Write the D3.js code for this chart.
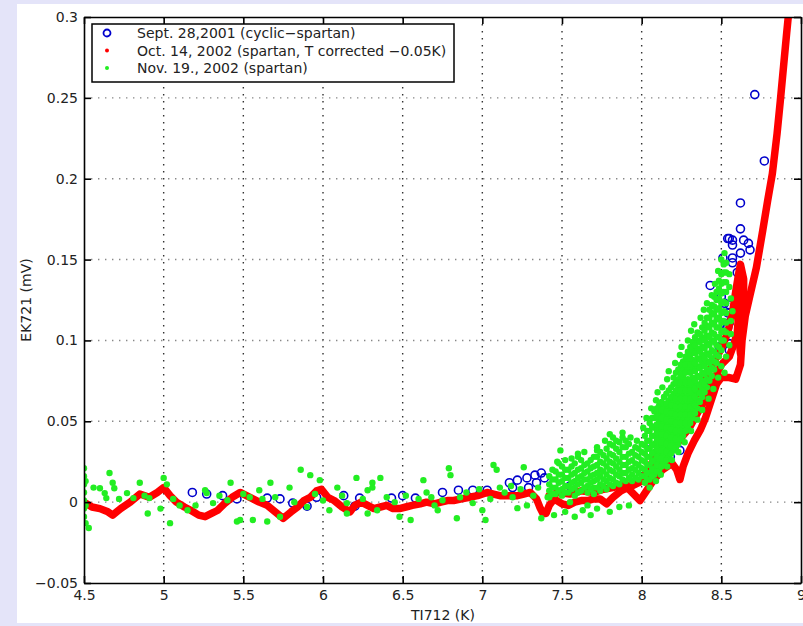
<!DOCTYPE html>
<head>
    <meta charset="UTF-8">
    <script src="https://d3js.org/d3.v7.min.js"></script>
    <style>
        body { margin: 0; }
        text { font-family: "DejaVu Sans", "Liberation Sans", Arial, sans-serif; }
    </style>
</head>

<body>
    <div id="viz"></div>
    <script>
        // axis ticks
        const xTicks = [4.5, 5, 5.5, 6, 6.5, 7, 7.5, 8, 8.5, 9];
        const yTicks = [-0.05, 0, 0.05, 0.1, 0.15, 0.2, 0.25, 0.3];

        const legendLabels = [
            "Sept. 28,2001 (cyclic\u2212spartan)",
            "Oct. 14, 2002 (spartan, T corrected \u22120.05K)",
            "Nov. 19., 2002 (spartan)"
        ];

        // Sept. 28, 2001 - open circles
        const blueSept = [
            [5.18, 0.006], [5.27, 0.005], [5.37, 0.004], [5.46, 0.002], [5.65, 0.0025], [5.73, 0.002],
            [5.81, -0.0006], [5.90, -0.0025], [5.96, 0.003], [6.13, 0.004], [6.20, -0.0025], [6.23, 0.0025],
            [6.43, 0.0025], [6.50, 0.004], [6.58, 0.0025], [6.75, 0.006], [6.85, 0.0074], [6.94, 0.0074],
            [7.03, 0.0074], [7.17, 0.012], [7.19, 0.009], [7.22, 0.0136], [7.28, 0.015], [7.29, 0.009],
            [7.33, 0.0167], [7.34, 0.012], [7.37, 0.018], [7.39, 0.015],
            [7.45, 0.012], [7.55, 0.010], [7.95, 0.014], [7.99, 0.015], [8.07, 0.034], [8.10, 0.030],
            [8.14, 0.038], [8.18, 0.028], [8.24, 0.032], [8.39, 0.073], [8.43, 0.072], [8.45, 0.080],
            [8.49, 0.096], [8.55, 0.094], [8.55, 0.098], [8.52, 0.102], [8.54, 0.108], [8.49, 0.110],
            [8.55, 0.111], [8.54, 0.117], [8.55, 0.122], [8.52, 0.123], [8.50, 0.127], [8.43, 0.134],
            [8.60, 0.142], [8.57, 0.148], [8.51, 0.151], [8.57, 0.151], [8.62, 0.154], [8.57, 0.159],
            [8.68, 0.156], [8.67, 0.160], [8.64, 0.162], [8.57, 0.162], [8.55, 0.163], [8.54, 0.163],
            [8.62, 0.169], [8.62, 0.185], [8.77, 0.211], [8.71, 0.252]
        ];

        // Oct. 14, 2002 - dense red dots, read as traces
        const redMain = [
            [4.50, 0.000], [4.55, -0.003], [4.60, -0.004], [4.65, -0.006], [4.68, -0.008], [4.73, -0.004],
            [4.79, 0.000], [4.85, 0.005], [4.91, 0.003], [4.96, 0.006], [5.00, 0.009], [5.04, 0.004],
            [5.08, 0.000], [5.13, -0.003], [5.17, -0.005], [5.22, -0.008], [5.26, -0.009], [5.30, -0.007],
            [5.34, -0.005], [5.38, -0.001], [5.43, 0.003], [5.48, 0.006], [5.52, 0.004], [5.56, 0.002],
            [5.60, 0.000], [5.65, -0.002], [5.70, -0.006], [5.75, -0.010], [5.80, -0.006], [5.84, -0.003],
            [5.88, 0.001], [5.92, 0.003], [5.96, 0.007], [5.99, 0.008], [6.03, 0.003], [6.07, 0.001],
            [6.12, -0.003], [6.17, -0.006], [6.20, -0.002], [6.24, 0.000], [6.28, -0.002], [6.32, -0.004],
            [6.36, -0.003], [6.40, -0.002], [6.44, -0.004], [6.48, -0.004], [6.52, -0.003], [6.56, -0.002],
            [6.61, -0.001], [6.65, 0.000], [6.70, -0.001], [6.74, 0.000], [6.78, 0.001], [6.82, 0.001],
            [6.87, 0.002], [6.92, 0.003], [6.97, 0.004], [7.03, 0.006], [7.07, 0.005], [7.11, 0.004],
            [7.16, 0.004], [7.22, 0.004], [7.26, 0.005], [7.30, 0.006], [7.34, 0.002], [7.36, -0.003],
            [7.38, -0.007], [7.40, -0.007], [7.42, -0.002], [7.45, 0.002], [7.50, -0.001], [7.54, -0.002],
            [7.58, 0.000], [7.62, 0.001], [7.66, 0.001], [7.70, 0.002], [7.74, 0.002], [7.78, -0.001],
            [7.82, 0.003], [7.87, 0.007], [7.91, 0.009], [7.95, 0.005], [7.99, 0.001], [8.03, 0.007],
            [8.07, 0.013], [8.13, 0.020], [8.19, 0.024], [8.22, 0.020], [8.24, 0.014], [8.26, 0.022],
            [8.29, 0.030], [8.33, 0.038], [8.37, 0.045], [8.40, 0.052], [8.44, 0.064], [8.47, 0.073],
            [8.50, 0.077], [8.55, 0.077], [8.59, 0.076], [8.62, 0.085], [8.63, 0.100], [8.65, 0.115],
            [8.68, 0.128], [8.72, 0.145], [8.76, 0.168], [8.79, 0.186], [8.82, 0.203], [8.85, 0.228],
            [8.87, 0.248], [8.89, 0.269], [8.91, 0.290], [8.92, 0.300]
        ];
        const redMid = [
            [8.05, 0.016], [8.10, 0.022], [8.15, 0.028], [8.20, 0.033], [8.25, 0.040], [8.30, 0.046],
            [8.35, 0.055], [8.40, 0.064], [8.45, 0.075], [8.50, 0.085], [8.55, 0.090], [8.58, 0.098],
            [8.60, 0.105], [8.61, 0.118], [8.62, 0.130], [8.63, 0.140]
        ];
        const redUpper = [
            [7.42, 0.004], [7.48, 0.006], [7.55, 0.005], [7.62, 0.007], [7.70, 0.006], [7.76, 0.008],
            [7.82, 0.009], [7.88, 0.011], [7.94, 0.010], [8.00, 0.013], [8.05, 0.022], [8.10, 0.030],
            [8.15, 0.036], [8.20, 0.043], [8.25, 0.051], [8.30, 0.060], [8.35, 0.068], [8.40, 0.077],
            [8.45, 0.086], [8.50, 0.095], [8.54, 0.105], [8.57, 0.117], [8.59, 0.130], [8.61, 0.142],
            [8.62, 0.147], [8.64, 0.138], [8.64, 0.124], [8.63, 0.112], [8.61, 0.102], [8.62, 0.092]
        ];

        // Nov. 19, 2002 - green dots, low scattered part
        const greenLow = [
            [4.50, 0.021], [4.50, 0.016], [4.50, 0.011], [4.50, 0.006], [4.50, 0.001], [4.50, -0.004],
            [4.50, -0.009], [4.51, -0.013], [4.51, 0.013], [4.51, -0.002], [4.53, -0.016],
            [4.56, 0.009], [4.60, 0.0086], [4.63, 0.0056], [4.66, 0.018], [4.68, 0.012], [4.69, 0.0086],
            [4.64, 0.0025], [4.77, 0.0056], [4.85, 0.012], [4.90, -0.007], [4.81, 0.0025], [4.91, 0.0025],
            [4.98, -0.004], [5.04, -0.013], [5.00, 0.015], [5.02, 0.011], [5.10, -0.002], [5.15, -0.005],
            [5.27, 0.0056], [5.31, -0.0006], [5.42, 0.012], [5.40, 0.0012], [5.46, -0.012], [5.26, 0.0074],
            [5.56, -0.011], [5.60, 0.0074], [5.67, 0.012], [5.65, -0.012], [5.79, 0.009], [5.86, 0.02],
            [5.92, 0.0167], [5.90, -0.003], [5.98, 0.0136], [6.04, -0.005], [6.09, 0.009], [6.15, -0.0006],
            [6.21, 0.015], [6.28, 0.0074], [6.31, 0.009], [6.34, -0.005], [5.73, -0.009], [5.54, 0.003],
            [5.48, -0.011], [6.15, -0.007], [6.31, 0.012], [6.36, 0.015], [6.28, -0.007], [6.48, -0.009],
            [6.55, -0.011], [6.63, 0.0136], [6.65, 0.006], [6.72, -0.005], [6.79, 0.021], [6.80, 0.0167],
            [6.75, 0.0012], [6.84, -0.01], [6.86, 0.003], [6.94, -0.0006], [7.00, -0.005], [7.02, -0.011],
            [7.07, 0.023], [7.09, 0.02], [7.11, 0.009], [7.19, 0.003], [7.26, 0.0216], [7.22, -0.0037],
            [7.28, -0.002], [7.37, -0.01], [7.41, 0.003], [7.49, 0.032],
            [4.72, 0.002], [4.88, 0.004], [5.06, 0.002], [5.20, -0.002], [5.35, 0.004], [5.50, 0.005],
            [5.62, 0.002], [5.70, 0.003], [5.82, 0.000], [5.95, 0.005], [6.00, 0.001], [6.12, 0.004],
            [6.25, 0.002], [6.40, 0.003], [6.45, 0.000], [6.52, 0.004], [6.60, 0.002], [6.68, 0.003],
            [6.70, -0.002], [6.90, 0.006], [6.98, 0.008], [7.05, 0.002], [7.14, 0.006], [7.18, 0.010],
            [7.24, 0.008], [7.32, 0.004], [7.35, 0.009]
        ];

        // green dense cloud, read column by column
        const greenCloudX = [7.42, 7.46, 7.50, 7.54, 7.58, 7.62, 7.66, 7.70, 7.74, 7.78, 7.82, 7.86,
            7.90, 7.94, 7.98, 8.02, 8.05, 8.08, 8.11, 8.14, 8.17, 8.20, 8.23, 8.26, 8.29, 8.32, 8.35,
            8.38, 8.41, 8.44, 8.47, 8.50, 8.53];
        const greenCloudY = [
            [0.003, 0.007, 0.011, 0.016],
            [0.005, 0.009, 0.014, 0.019],
            [0.004, 0.008, 0.013, 0.017, 0.022],
            [0.006, 0.010, 0.015, 0.020],
            [0.004, 0.009, 0.013, 0.018, 0.024],
            [0.007, 0.012, 0.016, 0.021, 0.026],
            [0.006, 0.010, 0.014, 0.019, 0.024],
            [0.005, 0.009, 0.013, 0.017, 0.022, 0.028],
            [0.007, 0.011, 0.016, 0.020, 0.025, 0.031],
            [0.008, 0.013, 0.017, 0.022, 0.027, 0.033],
            [0.010, 0.014, 0.019, 0.024, 0.029, 0.035, 0.040],
            [0.011, 0.016, 0.020, 0.025, 0.031, 0.037],
            [0.013, 0.018, 0.023, 0.028, 0.034, 0.038],
            [0.013, 0.017, 0.021, 0.026, 0.031],
            [0.014, 0.018, 0.023, 0.028, 0.033],
            [0.012, 0.016, 0.020, 0.025, 0.030, 0.035, 0.041],
            [0.014, 0.018, 0.023, 0.028, 0.033, 0.038, 0.044, 0.049],
            [0.017, 0.021, 0.026, 0.031, 0.036, 0.041, 0.046, 0.052, 0.056],
            [0.020, 0.025, 0.030, 0.035, 0.040, 0.045, 0.050, 0.055, 0.060],
            [0.024, 0.029, 0.034, 0.039, 0.044, 0.049, 0.054, 0.059, 0.065],
            [0.028, 0.033, 0.038, 0.043, 0.048, 0.053, 0.058, 0.063, 0.069],
            [0.032, 0.037, 0.042, 0.047, 0.052, 0.057, 0.062, 0.067, 0.073, 0.077],
            [0.036, 0.041, 0.046, 0.051, 0.056, 0.061, 0.066, 0.071, 0.076, 0.082],
            [0.041, 0.046, 0.051, 0.056, 0.061, 0.066, 0.071, 0.077, 0.082, 0.087],
            [0.046, 0.051, 0.056, 0.061, 0.066, 0.071, 0.076, 0.082, 0.088, 0.093],
            [0.052, 0.057, 0.062, 0.067, 0.072, 0.077, 0.083, 0.088, 0.094, 0.099],
            [0.058, 0.063, 0.068, 0.073, 0.078, 0.084, 0.089, 0.095, 0.100, 0.105],
            [0.065, 0.070, 0.075, 0.080, 0.086, 0.091, 0.096, 0.102, 0.108],
            [0.071, 0.076, 0.082, 0.087, 0.092, 0.098, 0.103, 0.109, 0.114],
            [0.078, 0.083, 0.089, 0.094, 0.100, 0.105, 0.111, 0.117, 0.122],
            [0.086, 0.091, 0.097, 0.102, 0.108, 0.113, 0.119, 0.125, 0.130],
            [0.094, 0.100, 0.105, 0.111, 0.117, 0.123, 0.129, 0.135, 0.141],
            [0.105, 0.111, 0.117, 0.123, 0.130, 0.136, 0.142, 0.148]
        ];
        // second pass over the cloud, between the columns above
        const greenCloudX2 = [7.44, 7.48, 7.52, 7.56, 7.60, 7.64, 7.68, 7.72, 7.76, 7.80, 7.84, 7.88,
            7.92, 7.96, 8.00, 8.035, 8.065, 8.095, 8.125, 8.155, 8.185, 8.215, 8.245, 8.275, 8.305,
            8.335, 8.365, 8.395, 8.425, 8.455, 8.485, 8.515];
        const greenCloudY2 = [
            [0.005, 0.009, 0.014, 0.020],
            [0.007, 0.012, 0.017, 0.024],
            [0.006, 0.010, 0.015, 0.020, 0.026],
            [0.008, 0.012, 0.017, 0.022],
            [0.006, 0.011, 0.015, 0.020, 0.028],
            [0.009, 0.014, 0.018, 0.023],
            [0.008, 0.012, 0.016, 0.021, 0.026],
            [0.009, 0.014, 0.018, 0.023, 0.028, 0.032],
            [0.010, 0.014, 0.019, 0.024, 0.029],
            [0.011, 0.015, 0.020, 0.025, 0.030, 0.036],
            [0.012, 0.017, 0.022, 0.027, 0.033, 0.038],
            [0.014, 0.018, 0.023, 0.028, 0.034, 0.040],
            [0.015, 0.020, 0.025, 0.030, 0.036],
            [0.015, 0.020, 0.024, 0.029, 0.034],
            [0.016, 0.021, 0.026, 0.031, 0.036],
            [0.014, 0.018, 0.023, 0.028, 0.033, 0.038, 0.044],
            [0.016, 0.020, 0.025, 0.030, 0.035, 0.041, 0.047, 0.052],
            [0.019, 0.023, 0.028, 0.033, 0.038, 0.043, 0.048, 0.053, 0.058],
            [0.022, 0.027, 0.032, 0.037, 0.042, 0.047, 0.052, 0.057, 0.062],
            [0.026, 0.031, 0.036, 0.041, 0.046, 0.051, 0.056, 0.061, 0.067],
            [0.030, 0.035, 0.040, 0.045, 0.050, 0.055, 0.060, 0.065, 0.071],
            [0.034, 0.039, 0.044, 0.049, 0.054, 0.059, 0.064, 0.069, 0.074, 0.080],
            [0.039, 0.044, 0.049, 0.054, 0.059, 0.064, 0.069, 0.074, 0.079, 0.085],
            [0.044, 0.049, 0.054, 0.059, 0.064, 0.069, 0.074, 0.080, 0.085, 0.090],
            [0.049, 0.054, 0.059, 0.064, 0.069, 0.074, 0.080, 0.085, 0.091, 0.096],
            [0.055, 0.060, 0.065, 0.070, 0.075, 0.081, 0.086, 0.092, 0.097, 0.102],
            [0.062, 0.067, 0.072, 0.077, 0.083, 0.088, 0.093, 0.099, 0.104],
            [0.068, 0.073, 0.079, 0.084, 0.089, 0.095, 0.100, 0.106, 0.111],
            [0.075, 0.080, 0.086, 0.091, 0.097, 0.102, 0.108, 0.114, 0.119],
            [0.082, 0.087, 0.093, 0.099, 0.104, 0.110, 0.116, 0.121, 0.127],
            [0.090, 0.096, 0.102, 0.108, 0.114, 0.120, 0.126, 0.132, 0.137],
            [0.100, 0.106, 0.112, 0.118, 0.124, 0.130, 0.136, 0.142, 0.147]
        ];
        // ragged points round the edges of the cloud
        const greenEdge = [
            [7.45, -0.008], [7.52, -0.006], [7.58, -0.009], [7.63, -0.005], [7.68, -0.008], [7.72, -0.004],
            [7.80, -0.006], [7.86, -0.003], [7.55, 0.000], [7.66, -0.002], [7.92, -0.002], [7.47, 0.025],
            [7.56, 0.027], [7.60, 0.030], [7.64, 0.031], [7.72, 0.034], [7.77, 0.038], [7.80, 0.042],
            [7.88, 0.043], [7.93, 0.040], [7.97, 0.038], [8.01, 0.046], [8.03, 0.052], [8.06, 0.058],
            [8.09, 0.063], [8.10, 0.068], [8.13, 0.071], [8.16, 0.076], [8.17, 0.081], [8.21, 0.086],
            [8.24, 0.091], [8.25, 0.096], [8.29, 0.100], [8.31, 0.106], [8.33, 0.110], [8.37, 0.114],
            [8.39, 0.119], [8.41, 0.123], [8.44, 0.128], [8.46, 0.135], [8.48, 0.143], [8.50, 0.150],
            [8.52, 0.154], [8.55, 0.141], [8.55, 0.133], [8.56, 0.126],
            [8.05, 0.009], [8.09, 0.013], [8.12, 0.017], [8.16, 0.022], [8.19, 0.026], [8.23, 0.031],
            [8.27, 0.037], [8.31, 0.044], [8.35, 0.051], [8.38, 0.057], [8.42, 0.064], [8.45, 0.070],
            [8.48, 0.077], [8.50, 0.084], [8.52, 0.080], [8.53, 0.090], [8.55, 0.097], [8.56, 0.104],
            [8.56, 0.112], [8.57, 0.118]
        ];

        const width = 803;
        const height = 626;
        const plot = { left: 84, right: 801, top: 17, bottom: 583 };

        const blue = "#0000cc";
        const red = "#ff0000";
        const green = "#22ee22";

        const svg = d3.select("#viz").append("svg")
            .attr("width", width)
            .attr("height", height);

        // slide background + white figure
        svg.append("rect").attr("width", width).attr("height", height).attr("fill", "#e4e4f9");
        svg.append("rect").attr("x", 17).attr("y", 4).attr("width", width - 17).attr("height", 619).attr("fill", "#fff");

        const x = d3.scaleLinear().domain([4.5, 9]).range([plot.left, plot.right]);
        const y = d3.scaleLinear().domain([-0.05, 0.3]).range([plot.bottom, plot.top]);

        svg.append("clipPath").attr("id", "clip")
            .append("rect")
            .attr("x", plot.left).attr("y", plot.top)
            .attr("width", plot.right - plot.left).attr("height", plot.bottom - plot.top);

        // dotted grid
        const grid = svg.append("g");
        grid.selectAll(".vg")
            .data(xTicks.slice(1, -1))
            .enter().append("line")
            .attr("x1", d => x(d)).attr("x2", d => x(d))
            .attr("y1", plot.top).attr("y2", plot.bottom)
            .attr("stroke", "#333").attr("stroke-width", 1.4)
            .attr("stroke-dasharray", "1.4,5.6");
        grid.selectAll(".hg")
            .data(yTicks.slice(1, -1))
            .enter().append("line")
            .attr("y1", d => y(d)).attr("y2", d => y(d))
            .attr("x1", plot.left).attr("x2", plot.right)
            .attr("stroke", "#888").attr("stroke-width", 1.4)
            .attr("stroke-dasharray", "1.4,5.6");

        const marks = svg.append("g").attr("clip-path", "url(#clip)");

        marks.selectAll(".blue")
            .data(blueSept)
            .enter().append("circle")
            .attr("cx", d => x(d[0])).attr("cy", d => y(d[1]))
            .attr("r", 4)
            .attr("fill", "none")
            .attr("stroke", blue)
            .attr("stroke-width", 1.6);

        const line = d3.line().x(d => x(d[0])).y(d => y(d[1]));
        [redMain, redMid, redUpper].forEach(tr => {
            marks.append("path")
                .attr("d", line(tr))
                .attr("fill", "none")
                .attr("stroke", red)
                .attr("stroke-width", 7.5)
                .attr("stroke-linejoin", "round")
                .attr("stroke-linecap", "round");
        });

        const greenCloud = greenCloudX.flatMap((gx, i) => greenCloudY[i].map(gy => [gx, gy]))
            .concat(greenCloudX2.flatMap((gx, i) => greenCloudY2[i].map(gy => [gx, gy])));
        marks.selectAll(".green")
            .data(greenLow.concat(greenCloud, greenEdge))
            .enter().append("circle")
            .attr("cx", d => x(d[0])).attr("cy", d => y(d[1]))
            .attr("r", 3.2)
            .attr("fill", green);

        // axes with inward ticks, box on
        const fmtY = d => d < 0 ? "\u2212" + Math.abs(d) : String(d);
        const axes = svg.append("g");
        axes.append("g")
            .attr("transform", `translate(0,${plot.bottom})`)
            .call(d3.axisBottom(x).tickValues(xTicks).tickSizeInner(-7).tickSizeOuter(0).tickPadding(7).tickFormat(d => String(d)));
        axes.append("g")
            .attr("transform", `translate(${plot.left},0)`)
            .call(d3.axisLeft(y).tickValues(yTicks).tickSizeInner(-7).tickSizeOuter(0).tickPadding(6).tickFormat(fmtY));
        axes.append("g")
            .attr("transform", `translate(0,${plot.top})`)
            .call(d3.axisTop(x).tickValues(xTicks).tickSizeInner(-7).tickSizeOuter(0).tickFormat(""));
        axes.append("g")
            .attr("transform", `translate(${plot.right},0)`)
            .call(d3.axisRight(y).tickValues(yTicks).tickSizeInner(-7).tickSizeOuter(0).tickFormat(""));
        axes.selectAll(".domain").attr("stroke", "#000").attr("stroke-width", 1.6);
        axes.selectAll(".tick line").attr("stroke", "#000").attr("stroke-width", 1.6);
        axes.selectAll(".tick text")
            .attr("fill", "#222")
            .style("font-size", "14px")
            .style("font-family", "'DejaVu Sans', 'Liberation Sans', Arial, sans-serif");

        svg.append("text")
            .attr("x", 443).attr("y", 620)
            .attr("text-anchor", "middle")
            .style("font-size", "14px")
            .attr("fill", "#222")
            .text("TI712 (K)");
        svg.append("text")
            .attr("transform", "translate(31,300) rotate(-90)")
            .attr("text-anchor", "middle")
            .style("font-size", "14px")
            .attr("fill", "#222")
            .text("EK721 (mV)");

        // legend
        const legend = svg.append("g");
        legend.append("rect")
            .attr("x", 92).attr("y", 24).attr("width", 362).attr("height", 58)
            .attr("fill", "#fff").attr("stroke", "#000").attr("stroke-width", 1.5);
        const rows = legend.selectAll(".row")
            .data(legendLabels)
            .enter().append("g")
            .attr("transform", (d, i) => `translate(0,${33 + i * 17.5})`);
        rows.filter((d, i) => i === 0).append("circle")
            .attr("cx", 107).attr("r", 3.5)
            .attr("fill", "none").attr("stroke", blue).attr("stroke-width", 1.8);
        rows.filter((d, i) => i === 1).append("circle")
            .attr("cx", 107).attr("r", 2).attr("fill", red);
        rows.filter((d, i) => i === 2).append("circle")
            .attr("cx", 107).attr("r", 2).attr("fill", green);
        rows.append("text")
            .attr("x", 137).attr("y", 5)
            .style("font-size", "14px")
            .attr("fill", "#222")
            .text(d => d);
    </script>
</body>

</html>
